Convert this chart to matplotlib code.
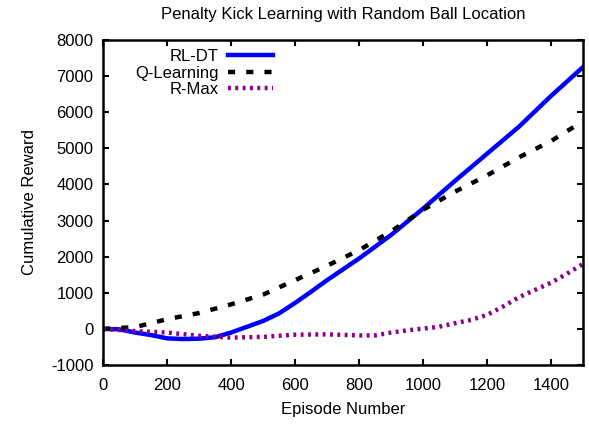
import matplotlib
matplotlib.use('Agg')
import matplotlib.pyplot as plt

plt.rcParams['font.family'] = ['Liberation Sans', 'DejaVu Sans']
plt.rcParams['font.size'] = 12
plt.rcParams['axes.unicode_minus'] = False

# RL-DT
rl_ep = [0, 50, 100, 150, 200, 250, 300, 350, 400, 450, 500, 550, 600, 650,
         700, 800, 900, 1000, 1100, 1200, 1300, 1400, 1500]
rl_val = [0, -10, -100, -170, -260, -280, -270, -230, -100, 60, 220, 430, 720, 1030,
          1350, 1950, 2600, 3330, 4100, 4850, 5600, 6450, 7250]

# Q-Learning
q_ep = [0, 100, 200, 300, 400, 500, 600, 700, 800, 900, 1000,
        1100, 1200, 1300, 1400, 1500]
q_val = [0, 50, 270, 440, 680, 950, 1350, 1750, 2180, 2700, 3300,
         3800, 4250, 4750, 5200, 5750]

# R-Max
rm_ep = [0, 100, 200, 300, 400, 500, 600, 700, 800, 850, 900, 950, 1000,
         1050, 1100, 1150, 1200, 1250, 1300, 1350, 1400, 1450, 1500]
rm_val = [0, -60, -100, -190, -240, -220, -160, -150, -180, -180, -100, -40, 10,
          60, 160, 250, 390, 620, 880, 1080, 1280, 1530, 1800]

fig = plt.figure(figsize=(5.89, 4.24), dpi=100)
ax = fig.add_axes([0.175, 0.139, 0.815, 0.767])

ax.plot(rl_ep, rl_val, color='#0000ff', lw=3.2, label='RL-DT')
ax.plot(q_ep, q_val, color='black', lw=3.2, dashes=(1.6, 2.5), label='Q-Learning')
ax.plot(rm_ep, rm_val, color='#8b008b', lw=3.2, dashes=(0.65, 1.0), label='R-Max')

ax.set_xlim(0, 1500)
ax.set_ylim(-1000, 8000)
ax.set_xticks(range(0, 1401, 200))
ax.set_yticks(range(-1000, 8001, 1000))
ax.tick_params(direction='in', length=4, width=1.5, top=True, right=True, pad=7)
ax.tick_params(axis='x', pad=9)
for s in ax.spines.values():
    s.set_linewidth(1.8)

ax.set_title('Penalty Kick Learning with Random Ball Location', fontsize=12, pad=15)
ax.set_xlabel('Episode Number', labelpad=7)
ax.set_ylabel('Cumulative Reward', labelpad=10)

ax.legend(loc='upper left', bbox_to_anchor=(0.042, 1.008), markerfirst=False,
          frameon=False, handlelength=2.7, handletextpad=0.6,
          labelspacing=0.1, borderaxespad=0.3, fontsize=12)

fig.savefig('out.png', dpi=100)
